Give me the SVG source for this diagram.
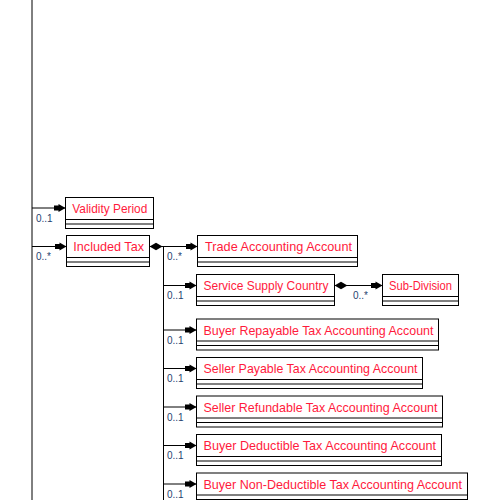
<svg xmlns="http://www.w3.org/2000/svg" width="500" height="500" viewBox="0 0 500 500">
<style>
.box{fill:#fff;stroke:#000;stroke-width:1}
.sep{stroke:#000;stroke-width:1}
.name{font-family:"Liberation Sans",Arial,sans-serif;font-size:13.5px;fill:#ff1a3c}
.card{font-family:"Liberation Sans",Arial,sans-serif;font-size:10px;fill:#1f3f6f}
.ln{stroke:#000;stroke-width:1;fill:none}
</style>
<defs>
<marker id="arr" markerUnits="userSpaceOnUse" markerWidth="14" markerHeight="10" refX="12" refY="5" orient="auto">
<path d="M0.5,2.5 L5,2.5 L5,1 L12,5 L5,9 L5,7.5 L0.5,7.5 z" fill="#000"/>
</marker>
<marker id="dia" markerUnits="userSpaceOnUse" markerWidth="14" markerHeight="10" refX="0" refY="5" orient="auto">
<path d="M0,5 L6.5,1.3 L13,5 L6.5,8.7 z" fill="#000"/>
</marker>
</defs>
<g id="connectors">
<line class="ln" x1="32" y1="0" x2="32" y2="500"/>
<line class="ln" x1="32" y1="208" x2="65.5" y2="208" marker-end="url(#arr)"/>
<line class="ln" x1="32" y1="246.5" x2="66.5" y2="246.5" marker-end="url(#arr)"/>
<line class="ln" x1="163.5" y1="246.5" x2="163.5" y2="500"/>
<path class="ln" d="M149.5,246.5 L197.5,246.5" marker-start="url(#dia)" marker-end="url(#arr)"/>
<line class="ln" x1="163.5" y1="285.5" x2="196.5" y2="285.5" marker-end="url(#arr)"/>
<path class="ln" d="M334.5,285.5 L382.5,285.5" marker-start="url(#dia)" marker-end="url(#arr)"/>
<line class="ln" x1="163.5" y1="330" x2="196.5" y2="330" marker-end="url(#arr)"/>
<line class="ln" x1="163.5" y1="368.5" x2="196.5" y2="368.5" marker-end="url(#arr)"/>
<line class="ln" x1="163.5" y1="407" x2="196.5" y2="407" marker-end="url(#arr)"/>
<line class="ln" x1="163.5" y1="445.5" x2="196.5" y2="445.5" marker-end="url(#arr)"/>
<line class="ln" x1="163.5" y1="484" x2="196.5" y2="484" marker-end="url(#arr)"/>
<text class="card" x="36" y="221.5">0..1</text>
<text class="card" x="36" y="260">0..*</text>
<text class="card" x="167" y="260">0..*</text>
<text class="card" x="167" y="299">0..1</text>
<text class="card" x="353" y="298.5">0..*</text>
<text class="card" x="167" y="343.5">0..1</text>
<text class="card" x="167" y="382">0..1</text>
<text class="card" x="167" y="420.5">0..1</text>
<text class="card" x="167" y="459">0..1</text>
<text class="card" x="167" y="497.5">0..1</text>
</g>
<g id="validity-period">
<rect class="box" x="65.5" y="197.5" width="88" height="31"/>
<line class="sep" x1="65.5" y1="219.5" x2="153.5" y2="219.5"/>
<line class="sep" x1="65.5" y1="224" x2="153.5" y2="224"/>
<text class="name" x="72.3" y="213" textLength="75" lengthAdjust="spacingAndGlyphs">Validity Period</text>
</g>
<g id="included-tax">
<rect class="box" x="66.5" y="235.5" width="83" height="31"/>
<line class="sep" x1="66.5" y1="257.5" x2="149.5" y2="257.5"/>
<line class="sep" x1="66.5" y1="262" x2="149.5" y2="262"/>
<text class="name" x="73.3" y="251" textLength="70.7" lengthAdjust="spacingAndGlyphs">Included Tax</text>
</g>
<g id="trade-accounting-account">
<rect class="box" x="197.5" y="235.5" width="160" height="31"/>
<line class="sep" x1="197.5" y1="257.5" x2="357.5" y2="257.5"/>
<line class="sep" x1="197.5" y1="262" x2="357.5" y2="262"/>
<text class="name" x="205" y="251" textLength="147" lengthAdjust="spacingAndGlyphs">Trade Accounting Account</text>
</g>
<g id="service-supply-country">
<rect class="box" x="196.5" y="274.5" width="138" height="31"/>
<line class="sep" x1="196.5" y1="296.5" x2="334.5" y2="296.5"/>
<line class="sep" x1="196.5" y1="301" x2="334.5" y2="301"/>
<text class="name" x="203.5" y="290" textLength="125" lengthAdjust="spacingAndGlyphs">Service Supply Country</text>
</g>
<g id="sub-division">
<rect class="box" x="382.5" y="274.5" width="76" height="31"/>
<line class="sep" x1="382.5" y1="296.5" x2="458.5" y2="296.5"/>
<line class="sep" x1="382.5" y1="301" x2="458.5" y2="301"/>
<text class="name" x="389" y="290" textLength="63" lengthAdjust="spacingAndGlyphs">Sub-Division</text>
</g>
<g id="buyer-repayable">
<rect class="box" x="196.5" y="319" width="242" height="31"/>
<line class="sep" x1="196.5" y1="341" x2="438.5" y2="341"/>
<line class="sep" x1="196.5" y1="345.5" x2="438.5" y2="345.5"/>
<text class="name" x="203.5" y="334.5" textLength="230" lengthAdjust="spacingAndGlyphs">Buyer Repayable Tax Accounting Account</text>
</g>
<g id="seller-payable">
<rect class="box" x="196.5" y="357.5" width="226" height="31"/>
<line class="sep" x1="196.5" y1="379.5" x2="422.5" y2="379.5"/>
<line class="sep" x1="196.5" y1="384" x2="422.5" y2="384"/>
<text class="name" x="203.5" y="373" textLength="214" lengthAdjust="spacingAndGlyphs">Seller Payable Tax Accounting Account</text>
</g>
<g id="seller-refundable">
<rect class="box" x="196.5" y="396" width="246" height="31"/>
<line class="sep" x1="196.5" y1="418" x2="442.5" y2="418"/>
<line class="sep" x1="196.5" y1="422.5" x2="442.5" y2="422.5"/>
<text class="name" x="203.5" y="411.5" textLength="234" lengthAdjust="spacingAndGlyphs">Seller Refundable Tax Accounting Account</text>
</g>
<g id="buyer-deductible">
<rect class="box" x="196.5" y="434.5" width="245" height="31"/>
<line class="sep" x1="196.5" y1="456.5" x2="441.5" y2="456.5"/>
<line class="sep" x1="196.5" y1="461" x2="441.5" y2="461"/>
<text class="name" x="203.5" y="450" textLength="232.5" lengthAdjust="spacingAndGlyphs">Buyer Deductible Tax Accounting Account</text>
</g>
<g id="buyer-non-deductible">
<rect class="box" x="196.5" y="473" width="271" height="31"/>
<line class="sep" x1="196.5" y1="495" x2="467.5" y2="495"/>
<line class="sep" x1="196.5" y1="499.5" x2="467.5" y2="499.5"/>
<text class="name" x="203.5" y="488.5" textLength="258.5" lengthAdjust="spacingAndGlyphs">Buyer Non-Deductible Tax Accounting Account</text>
</g>
</svg>
